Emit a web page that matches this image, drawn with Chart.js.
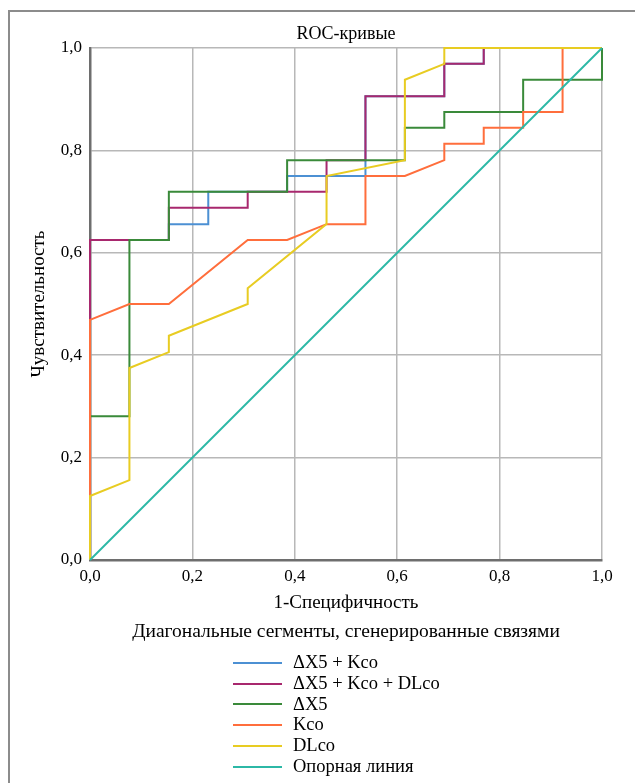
<!DOCTYPE html>
<html lang="ru">
<head>
<meta charset="utf-8">
<title>ROC-кривые</title>
<script src="https://cdn.jsdelivr.net/npm/chart.js@4.4.1/dist/chart.umd.min.js"></script>
<style>
  body { margin: 0; background: #fff; font-family: "Liberation Serif", "Times New Roman", serif; color: #000; }
  #frame { position: absolute; left: 8px; top: 10px; width: 700px; height: 800px;
           border-left: 2px solid #8c8c8c; border-top: 2px solid #8c8c8c; }
  #chart { position: absolute; left: 0; top: 0; }
  .txt { position: absolute; left: 0; width: 692px; text-align: center; white-space: nowrap; }
  #title { top: 23px; font-size: 18px; }
  #subtitle { top: 620px; font-size: 19.5px; }
  #legend { position: absolute; left: 233px; top: 652px; font-size: 18.5px; }
  .row { height: 20.8px; line-height: 20.8px; white-space: nowrap; }
  .swatch { display: inline-block; width: 49px; height: 2px; vertical-align: middle; margin-right: 11px; position: relative; top: -1px; }
</style>
</head>
<body>
<div id="frame"></div>
<canvas id="chart" width="635" height="783"></canvas>
<div class="txt" id="title">ROC-кривые</div>
<div class="txt" id="subtitle">Диагональные сегменты, сгенерированные связями</div>
<div id="legend"></div>
<script>
// --- Data (1 - specificity on x, sensitivity on y) ---
const seriesNames = ['ΔX5 + Kco', 'ΔX5 + Kco + DLco', 'ΔX5', 'Kco', 'DLco', 'Опорная линия'];
const seriesColors = ['#4c90d3', '#a8286e', '#3a8a3a', '#ff6e3c', '#e8cc22', '#2cb8a6'];

const xTicks = [0, 0.2, 0.4, 0.6, 0.8, 1.0];
const yTicks = [0, 0.2, 0.4, 0.6, 0.8, 1.0];

const x5KcoX = [0, 0, 0.154, 0.154, 0.231, 0.231, 0.385, 0.385, 0.538, 0.538, 0.692, 0.692, 0.769, 0.769, 1];
const x5KcoY = [0, 0.625, 0.625, 0.656, 0.656, 0.719, 0.719, 0.75, 0.75, 0.906, 0.906, 0.969, 0.969, 1, 1];

const x5KcoDlX = [0, 0, 0.154, 0.154, 0.308, 0.308, 0.462, 0.462, 0.538, 0.538, 0.692, 0.692, 0.769, 0.769, 1];
const x5KcoDlY = [0, 0.625, 0.625, 0.688, 0.688, 0.719, 0.719, 0.781, 0.781, 0.906, 0.906, 0.969, 0.969, 1, 1];

const x5X = [0, 0, 0.077, 0.077, 0.154, 0.154, 0.385, 0.385, 0.615, 0.615, 0.692, 0.692, 0.846, 0.846, 1, 1];
const x5Y = [0, 0.281, 0.281, 0.625, 0.625, 0.719, 0.719, 0.781, 0.781, 0.844, 0.844, 0.875, 0.875, 0.938, 0.938, 1];

const kcoX = [0, 0, 0.077, 0.154, 0.308, 0.385, 0.462, 0.538, 0.538, 0.615, 0.692, 0.692, 0.769, 0.769, 0.846, 0.846, 0.923, 0.923, 1];
const kcoY = [0, 0.469, 0.5, 0.5, 0.625, 0.625, 0.656, 0.656, 0.75, 0.75, 0.781, 0.813, 0.813, 0.844, 0.844, 0.875, 0.875, 1, 1];

const dlcoX = [0, 0, 0.077, 0.077, 0.154, 0.154, 0.308, 0.308, 0.462, 0.462, 0.615, 0.615, 0.692, 0.692, 1];
const dlcoY = [0, 0.125, 0.156, 0.375, 0.406, 0.438, 0.5, 0.531, 0.656, 0.75, 0.781, 0.938, 0.969, 1, 1];

const refX = [0, 1];
const refY = [0, 1];

const seriesX = [x5KcoX, x5KcoDlX, x5X, kcoX, dlcoX, refX];
const seriesY = [x5KcoY, x5KcoDlY, x5Y, kcoY, dlcoY, refY];

const FAMILY = '"Liberation Serif", "Times New Roman", serif';
const TICK_FONT = { family: FAMILY, size: 17 };
const TITLE_FONT = { family: FAMILY, size: 19 };
const fmt = v => v.toFixed(1).replace('.', ',');

const datasets = seriesNames.map((name, i) => ({
  label: name,
  data: seriesX[i].map((x, j) => ({ x, y: seriesY[i][j] })),
  borderColor: seriesColors[i],
  backgroundColor: seriesColors[i],
  borderWidth: 2,
  pointRadius: 0,
  tension: 0,
  fill: false,
  clip: false,
  order: seriesNames.length - i, // later series drawn on top
}));

new Chart(document.getElementById('chart'), {
  type: 'line',
  data: { datasets },
  options: {
    responsive: false,
    animation: false,
    devicePixelRatio: 1,
    layout: { padding: { left: 0, top: 48, right: 33, bottom: 169 } },
    plugins: { legend: { display: false }, tooltip: { enabled: false } },
    scales: {
      x: {
        type: 'linear', min: 0, max: 1,
        afterFit: s => { s.height = 54; },
        afterBuildTicks: s => { s.ticks = xTicks.map(v => ({ value: v })); },
        ticks: { callback: fmt, font: TICK_FONT, color: '#000', padding: 6, maxRotation: 0 },
        grid: { color: '#b8b8b8', lineWidth: 1.5, drawTicks: false },
        border: { color: '#6e6e6e', width: 2.5 },
        title: { display: true, text: '1-Специфичность', font: TITLE_FONT, color: '#000', padding: { top: 0, bottom: 0 } },
      },
      y: {
        type: 'linear', min: 0, max: 1,
        afterFit: s => { s.width = 90; },
        afterBuildTicks: s => { s.ticks = yTicks.map(v => ({ value: v })); },
        ticks: { callback: fmt, font: TICK_FONT, color: '#000', padding: 8 },
        grid: { color: '#b8b8b8', lineWidth: 1.5, drawTicks: false },
        border: { color: '#6e6e6e', width: 2.5 },
        title: { display: true, text: 'Чувствительность', font: TITLE_FONT, color: '#000', padding: { top: 28, bottom: 0 } },
      },
    },
  },
});

// --- HTML legend, stacked vertically ---
document.getElementById('legend').innerHTML = seriesNames.map((name, i) =>
  `<div class="row"><span class="swatch" style="background:${seriesColors[i]}"></span>${name}</div>`
).join('');
</script>
</body>
</html>
